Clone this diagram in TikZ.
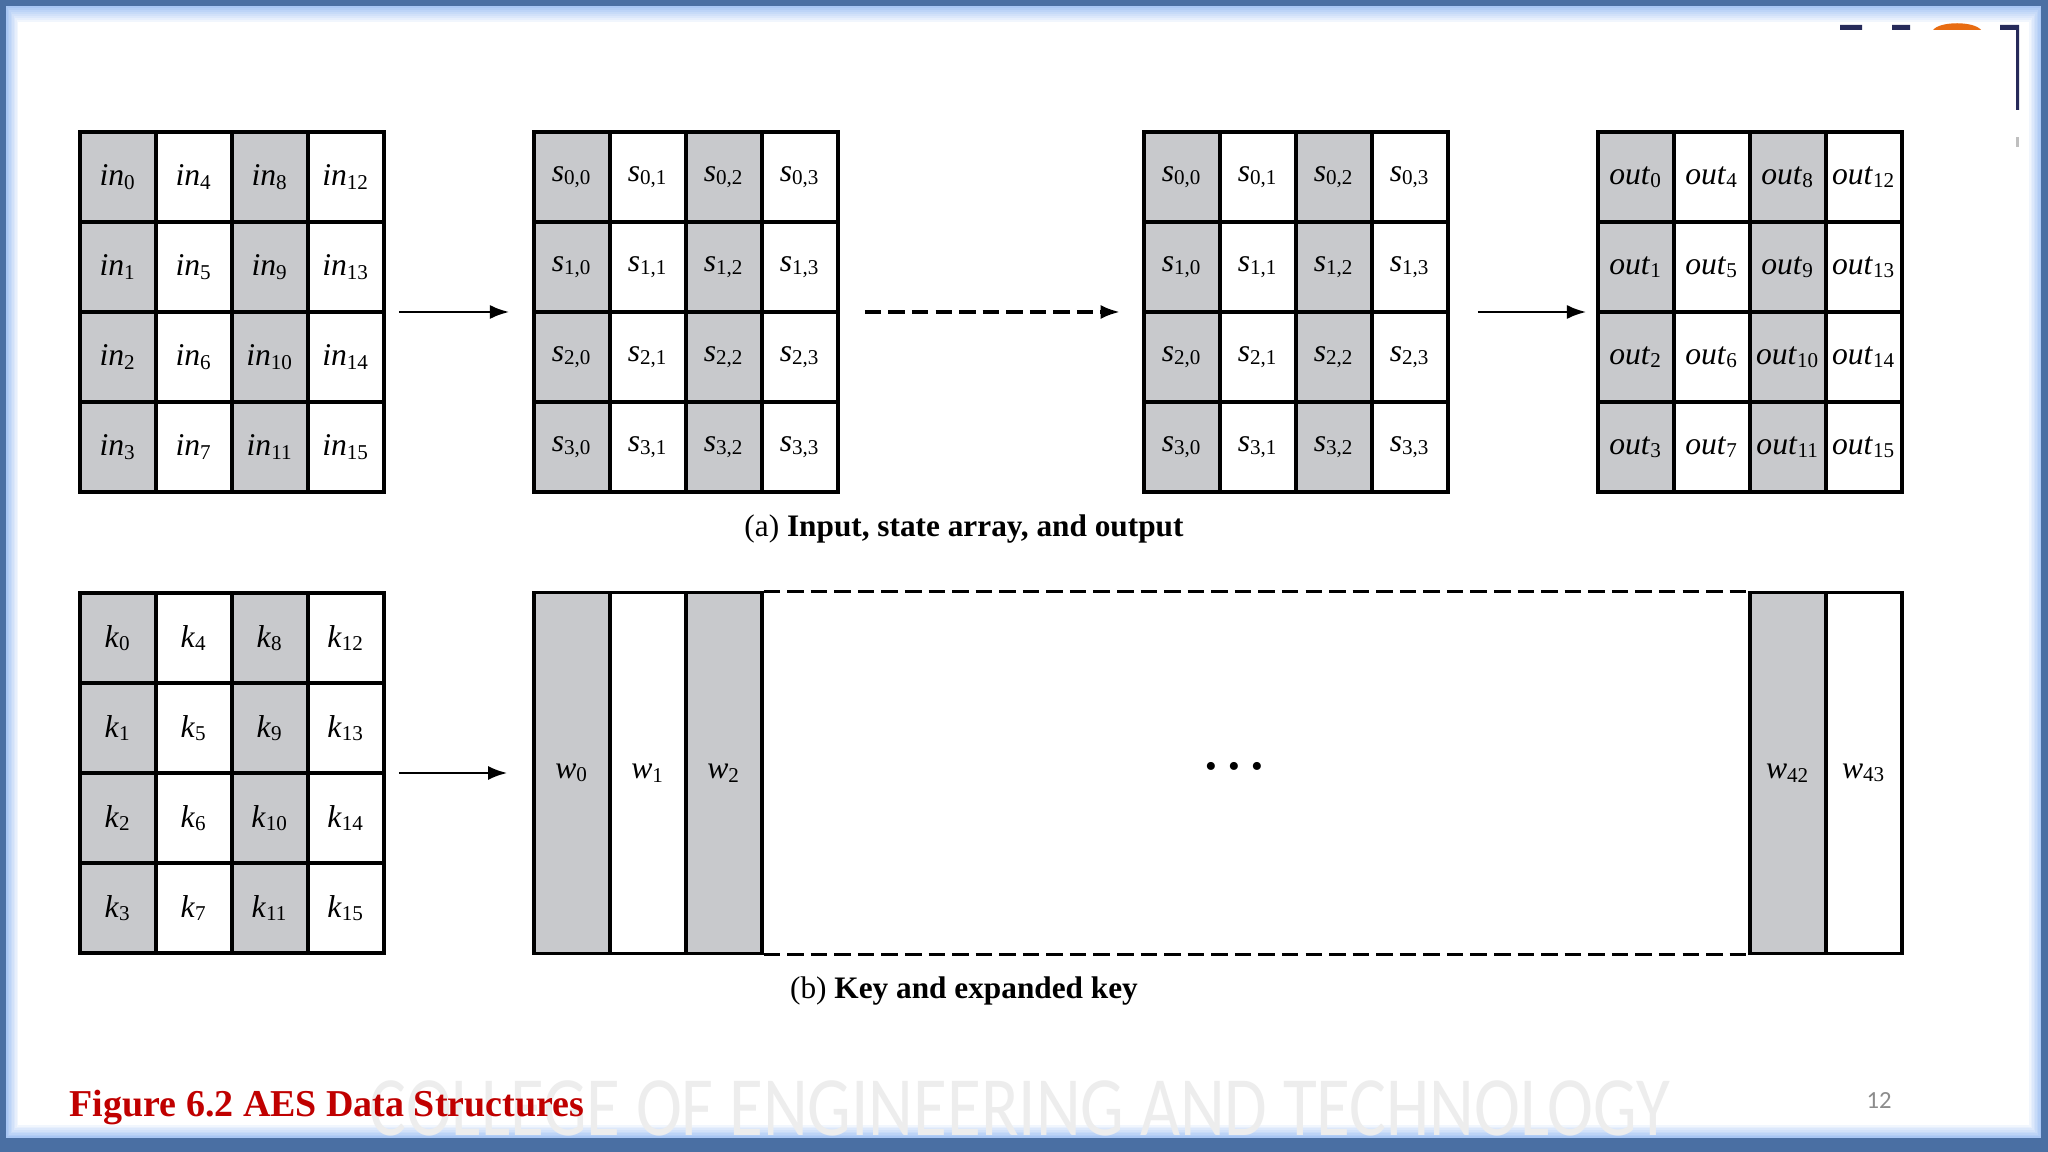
\documentclass[tikz,border=0pt]{standalone}
\usepackage{fontspec}
\setmainfont{Liberation Serif}
\newfontfamily\slidefont{Carlito}
\usetikzlibrary{arrows.meta}

\definecolor{cellgray}{RGB}{200,201,204}
\definecolor{frameblue}{RGB}{74,111,163}
\definecolor{glowblue}{RGB}{168,198,244}
\definecolor{titlered}{RGB}{192,0,0}
\definecolor{logonavy}{RGB}{38,42,90}
\definecolor{logoorange}{RGB}{232,108,18}

\tikzset{
  cell/.style={draw, line width=0.9pt, minimum width=0.76cm, minimum height=0.9cm, inner sep=0pt, font=\fontsize{9}{10}\selectfont},
  word/.style={cell, minimum height=3.6cm},
  block/.style={draw, line width=1pt, minimum width=3.04cm, minimum height=3.6cm},
  flow/.style={->, line width=0.8pt},
  gap/.style={dash pattern=on 4.7pt off 2pt, line width=1pt},
  caption/.style={font=\fontsize{8.9}{10}\selectfont}
}

\begin{document}
\begin{tikzpicture}[x=0.01cm, y=-0.01cm, >={Latex[length=5.5pt,width=4pt]}]
  \useasboundingbox (0,0) rectangle (2048,1152);

  % slide frame
  \fill[frameblue] (0,0) rectangle (2048,1152);
  \fill[glowblue] (6,6) rectangle (2041,1138);
  \foreach \i [evaluate=\i as \pc using int(100-12*\i)] in {1,...,8}
    \fill[glowblue!\pc!white] (6+1.5*\i,6+2*\i) rectangle (2041-1.5*\i,1138-1.6*\i);
  \fill[white] (18,22) rectangle (2029,1125);

  % logo fragment, top right
  \fill[logonavy] (1840,25) rectangle (1862,30) (1892,25) rectangle (1910,30)
    (2000,25) rectangle (2019,30) (2016,25) rectangle (2019,110);
  \fill[logoorange] (1933,30) .. controls (1940,21) and (1974,21) .. (1981,30) -- cycle;
  \fill[black!25] (2016,137) rectangle (2019,147);

  % watermark
  \node[text=black!7, font=\slidefont\fontsize{24}{28}\selectfont] (college) at (1020,1108)
    {\scalebox{0.82}[1]{COLLEGE OF ENGINEERING AND TECHNOLOGY}};

  % the 4x4 arrays
  \foreach \row in {0,...,3}
    \foreach \col in {0,...,3} {
      \pgfmathtruncatemacro{\n}{4*\col+\row}
      \ifodd\col \def\tone{white}\else \def\tone{cellgray}\fi
      \node[cell, fill=\tone] (in-\row-\col) at (118+76*\col,177+90*\row) {\textit{in}\textsubscript{\n}};
      \node[cell, fill=\tone] (sa-\row-\col) at (572+76*\col,177+90*\row) {\textit{s}\textsubscript{\row,\col}};
      \node[cell, fill=\tone] (sb-\row-\col) at (1182+76*\col,177+90*\row) {\textit{s}\textsubscript{\row,\col}};
      \node[cell, fill=\tone] (out-\row-\col) at (1636+76*\col,177+90*\row) {\textit{out}\textsubscript{\n}};
      \node[cell, fill=\tone] (k-\row-\col) at (118+76*\col,638+90*\row) {\textit{k}\textsubscript{\n}};
    }
  \node[block] (in) at (232,312) {};
  \node[block] (sa) at (686,312) {};
  \node[block] (sb) at (1296,312) {};
  \node[block] (out) at (1750,312) {};
  \node[block] (key) at (232,773) {};

  % expanded key
  \node[word, fill=cellgray] (w0) at (572,773) {\textit{w}\textsubscript{0}};
  \node[word] (w1) at (648,773) {\textit{w}\textsubscript{1}};
  \node[word, fill=cellgray] (w2) at (724,773) {\textit{w}\textsubscript{2}};
  \node[word, fill=cellgray] (w42) at (1788,773) {\textit{w}\textsubscript{42}};
  \node[word] (w43) at (1864,773) {\textit{w}\textsubscript{43}};
  \draw[gap] (w2.north east) -- (w42.north west);
  \draw[gap] (w2.south east) -- (w42.south west);
  \node[font=\fontsize{9.5}{10}\selectfont] (dots) at (1234,770) {•\hspace{3.2pt}•\hspace{3.2pt}•};

  \draw[flow, shorten <=3.7pt, shorten >=6.5pt] (in) -- (sa);
  \draw[flow, gap, shorten <=7.1pt, shorten >=6.3pt] (sa) -- (sb);
  \draw[flow, shorten <=8pt, shorten >=2.8pt] (sb) -- (out);
  \draw[flow, shorten <=3.7pt, shorten >=7.1pt] (key) -- (w0);

  \node[caption] (cap-a) at (964,529) {(a) \textbf{Input, state array, and output}};
  \node[caption] (cap-b) at (964,991) {(b) \textbf{Key and expanded key}};

  \node[anchor=base west, inner sep=0pt, text=titlered, font=\fontsize{10.8}{13}\selectfont\bfseries] (title) at (69,1116) {Figure 6.2 AES Data Structures};
  \node[text=black!45, font=\slidefont\fontsize{7}{8}\selectfont] (page) at (1879,1101) {12};
\end{tikzpicture}
\end{document}
